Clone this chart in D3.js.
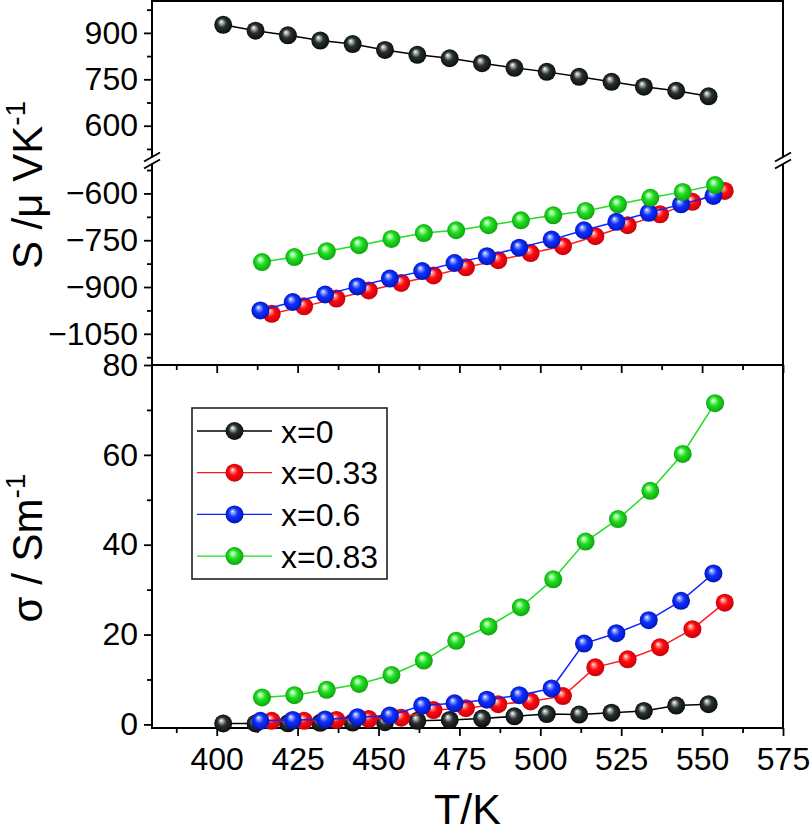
<!DOCTYPE html>
<html>
<head>
<meta charset="utf-8">
<script src="https://cdn.jsdelivr.net/npm/d3@7"></script>
<style>
  body { margin: 0; background: #fff; }
  svg text { font-family: "Liberation Sans", Arial, sans-serif; fill: #000; }
</style>
</head>
<body>
<svg id="chart-svg"></svg>
<script>
const seriesNames = ["x=0", "x=0.33", "x=0.6", "x=0.83"];

// temperatures (K) of every series
const tempX0 = [402, 412, 422, 432, 442, 452, 462, 472, 482, 492, 502, 512, 522, 532, 542, 552];
const tempX033 = [417, 427, 437, 447, 457, 467, 477, 487, 497, 507, 517, 527, 537, 547, 557];
const tempX06 = [413.5, 423.5, 433.5, 443.5, 453.5, 463.5, 473.5, 483.5, 493.5, 503.5, 513.5, 523.5, 533.5, 543.5, 553.5];
const tempX083 = [414, 424, 434, 444, 454, 464, 474, 484, 494, 504, 514, 524, 534, 544, 554];

// Seebeck coefficient S (uV/K)
const seebeckX0 = [926, 907, 892, 875, 864, 845, 829, 818, 802, 787, 774, 758, 742, 726, 713, 695];
const seebeckX033 = [-986, -962, -937, -911, -887, -863, -837, -814, -791, -769, -737, -702, -667, -627, -592];
const seebeckX06 = [-975, -948, -924, -898, -873, -849, -823, -801, -774, -748, -718, -691, -662, -635, -608];
const seebeckX083 = [-820, -804, -785, -766, -746, -727, -718, -702, -686, -670, -656, -635, -614, -595, -573];

// electrical conductivity sigma (S/m)
const sigmaX0 = [0.2, 0.2, 0.25, 0.35, 0.4, 0.5, 0.8, 1.0, 1.3, 1.8, 2.3, 2.2, 2.6, 3.0, 4.2, 4.5];
const sigmaX033 = [0.8, 0.8, 1.0, 1.2, 1.5, 3.2, 3.6, 4.5, 5.1, 6.3, 12.7, 14.5, 17.2, 21.2, 27.1];
const sigmaX06 = [0.8, 1.0, 1.1, 1.6, 2.0, 4.2, 4.7, 5.5, 6.5, 8.0, 18.0, 20.3, 23.2, 27.5, 33.6];
const sigmaX083 = [6.0, 6.5, 7.7, 9.0, 11.0, 14.2, 18.6, 21.8, 26.1, 32.3, 40.7, 45.7, 52.0, 60.2, 71.5];

const xTicks = [400, 425, 450, 475, 500, 525, 550, 575];
const sUpperTicks = [600, 750, 900];
const sLowerTicks = [-1050, -900, -750, -600];
const sigmaTicks = [0, 20, 40, 60, 80];

const lineColors = ["#000000", "#ff1a1a", "#1020ff", "#22dd22"];
const ballStops = [
  ["#ffffff", "#b8c0c0", "#2a3030", "#050808"],
  ["#ffffff", "#ff9a9a", "#ff0a0a", "#c00010"],
  ["#ffffff", "#9ab0ff", "#1030ff", "#0010b0"],
  ["#ffffff", "#b0ffb0", "#22e022", "#0c9a0c"],
];

const temps = [tempX0, tempX033, tempX06, tempX083];
const seebeck = [seebeckX0, seebeckX033, seebeckX06, seebeckX083];
const sigma = [sigmaX0, sigmaX033, sigmaX06, sigmaX083];

const svgWidth = 810;
const svgHeight = 832;
const m_left = 152;
const m_right = 783;
const m_top = 1;
const midY = 365;
const m_bottom = 728;
const breakY = 161;

const svg = d3.select("#chart-svg").attr("width", svgWidth).attr("height", svgHeight);

const defs = svg.append("defs");
ballStops.forEach((stops, i) => {
  const g = defs.append("radialGradient")
    .attr("id", "ball" + i)
    .attr("cx", "50%").attr("cy", "50%").attr("r", "55%")
    .attr("fx", "38%").attr("fy", "32%");
  [0, 0.14, 0.45, 1].forEach((o, j) => {
    g.append("stop").attr("offset", o).attr("stop-color", stops[j]);
  });
});

const xScale = d3.scaleLinear().domain([380, 575]).range([m_left, m_right]);
const sUpper = d3.scaleLinear().domain([486, 1003]).range([breakY, m_top]);
const sLower = d3.scaleLinear().domain([-1150, -496]).range([midY, breakY]);
const sigmaScale = d3.scaleLinear().domain([-0.8, 80]).range([m_bottom, midY]);
const sScale = (v) => (v > 0 ? sUpper(v) : sLower(v));

const fmt = d3.format("d");

function yAxis(scale, major, minor) {
  svg.append("g")
    .attr("transform", `translate(${m_left},0)`)
    .call(d3.axisLeft(scale).tickValues(minor).tickSize(5).tickFormat(""))
    .call((g) => g.select(".domain").remove());
  svg.append("g")
    .attr("class", "tick-labels")
    .attr("transform", `translate(${m_left},0)`)
    .call(d3.axisLeft(scale).tickValues(major).tickSize(8).tickPadding(6).tickFormat(fmt))
    .call((g) => g.select(".domain").remove());
}

function xAxis(y, labels) {
  const minor = d3.range(387.5, 575, 25);
  svg.append("g")
    .attr("transform", `translate(0,${y})`)
    .call(d3.axisBottom(xScale).tickValues(minor).tickSize(5).tickFormat(""))
    .call((g) => g.select(".domain").remove());
  svg.append("g")
    .attr("class", "tick-labels")
    .attr("transform", `translate(0,${y})`)
    .call(d3.axisBottom(xScale).tickValues(xTicks).tickSize(8).tickPadding(11)
      .tickFormat(labels ? fmt : ""))
    .call((g) => g.select(".domain").remove());
}

yAxis(sUpper, sUpperTicks, [525, 675, 825, 975]);
yAxis(sLower, sLowerTicks, [-1125, -975, -825, -675, -525]);
yAxis(sigmaScale, sigmaTicks, [10, 30, 50, 70]);
xAxis(midY, false);
xAxis(m_bottom, true);

svg.selectAll(".tick line").attr("stroke", "#000").attr("stroke-width", 1.8);
svg.selectAll(".tick-labels text")
  .attr("font-size", 32)
  .attr("font-family", "Liberation Sans, Arial, sans-serif")
  .attr("fill", "#000");

// frames
[[m_top, midY], [midY, m_bottom]].forEach(([a, b]) => {
  svg.append("rect")
    .attr("x", m_left).attr("y", a)
    .attr("width", m_right - m_left).attr("height", b - a)
    .attr("fill", "none").attr("stroke", "#000").attr("stroke-width", 2);
});

// axis break marks
[m_left, m_right].forEach((x) => {
  svg.append("polygon")
    .attr("points", `${x - 8},${breakY + 1} ${x + 8},${breakY - 8} ${x + 8},${breakY - 1} ${x - 8},${breakY + 8}`)
    .attr("fill", "#fff");
  [-4, 3].forEach((d) => {
    svg.append("line")
      .attr("x1", x - 8).attr("y1", breakY + d + 4.5)
      .attr("x2", x + 8).attr("y2", breakY + d - 4.5)
      .attr("stroke", "#000").attr("stroke-width", 2);
  });
});

function drawSeries(xs, ys, yFn, i) {
  const pts = xs.map((t, k) => [xScale(t), yFn(ys[k])]);
  const g = svg.append("g");
  g.append("path")
    .attr("d", d3.line()(pts))
    .attr("fill", "none")
    .attr("stroke", lineColors[i])
    .attr("stroke-width", 1.5);
  g.selectAll("circle")
    .data(pts)
    .join("circle")
    .attr("cx", (d) => d[0])
    .attr("cy", (d) => d[1])
    .attr("r", 9)
    .attr("fill", `url(#ball${i})`);
}

seriesNames.forEach((name, i) => {
  drawSeries(temps[i], seebeck[i], sScale, i);
});
seriesNames.forEach((name, i) => {
  drawSeries(temps[i], sigma[i], sigmaScale, i);
});

// legend
const legend = svg.append("g");
legend.append("rect")
  .attr("x", 192).attr("y", 408)
  .attr("width", 195).attr("height", 171)
  .attr("fill", "#fff").attr("stroke", "#222").attr("stroke-width", 1.6);
seriesNames.forEach((name, i) => {
  const y = 431 + i * 41.7;
  legend.append("line")
    .attr("x1", 197).attr("x2", 272).attr("y1", y).attr("y2", y)
    .attr("stroke", lineColors[i]).attr("stroke-width", 1.3);
  legend.append("circle")
    .attr("cx", 234.5).attr("cy", y).attr("r", 9)
    .attr("fill", `url(#ball${i})`);
  legend.append("text")
    .attr("x", 281).attr("y", y + 11.5)
    .attr("font-size", 32)
    .text(name);
});

// axis titles
svg.append("text")
  .attr("x", (m_left + m_right) / 2).attr("y", 824)
  .attr("text-anchor", "middle")
  .attr("font-size", 43)
  .text("T/K");

const sTitle = svg.append("text")
  .attr("transform", "translate(42,185) rotate(-90)")
  .attr("text-anchor", "middle")
  .attr("font-size", 42);
sTitle.append("tspan").text("S /\u03bc VK");
sTitle.append("tspan").attr("dy", -17).attr("font-size", 28).text("-1");

const sigTitle = svg.append("text")
  .attr("transform", "translate(42,548) rotate(-90)")
  .attr("text-anchor", "middle")
  .attr("font-size", 42);
sigTitle.append("tspan").text("\u03c3 / Sm");
sigTitle.append("tspan").attr("dy", -17).attr("font-size", 28).text("-1");
</script>
</body>
</html>
